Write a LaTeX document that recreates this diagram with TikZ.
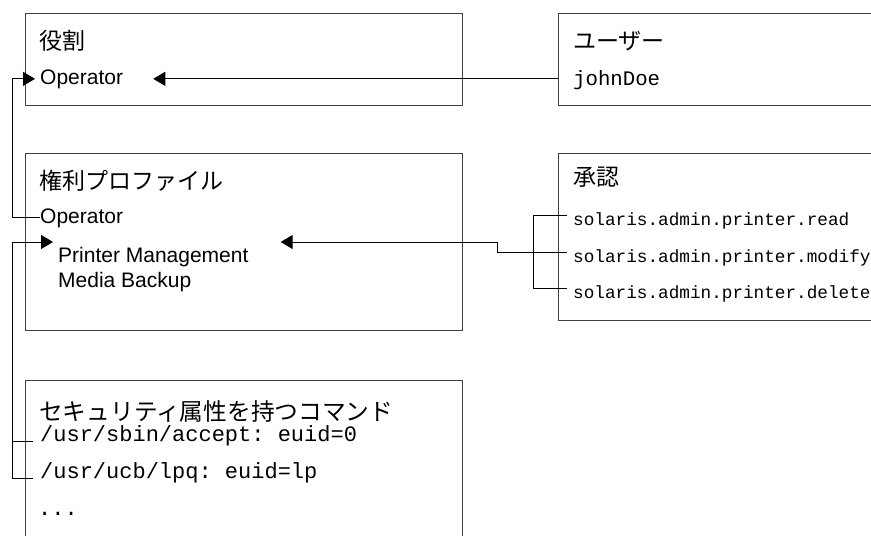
\documentclass[tikz,border=0pt]{standalone}
\usepackage{fontspec}
\setsansfont{Liberation Sans}
\setmonofont{Liberation Mono}
\newfontfamily\jpfont{Noto Sans CJK JP}
\usepackage{tikz}
\usetikzlibrary{arrows.meta}
\tikzstyle{arrow}    = [line width=0.9pt,->,>={Triangle[length=12pt,width=14pt]}]
\tikzstyle{wire}     = [line width=0.9pt]
\tikzstyle{box}      = [draw=black!75,line width=1.4pt,inner sep=0pt,anchor=north west]
\tikzstyle{heading}  = [inner sep=0pt,anchor=base west,font=\jpfont\fontsize{23}{27}\selectfont]
\tikzstyle{sanstext} = [inner sep=0pt,anchor=base west,font=\sffamily\fontsize{21}{25}\selectfont]
\tikzstyle{monotext} = [inner sep=0pt,anchor=base west,font=\ttfamily\fontsize{22}{26}\selectfont]

\begin{document}
\begin{tikzpicture}[x=1pt,y=-1pt]
           \useasboundingbox (0,0) rectangle (871,536);
           % boxes
           \node[box,minimum width=437pt,minimum height=92pt](rolebox)at(25,13){};
           \node[box,minimum width=340pt,minimum height=92pt](userbox)at(558,13){};
           \node[box,minimum width=437pt,minimum height=177pt](profbox)at(25,153){};
           \node[box,minimum width=340pt,minimum height=167pt](authbox)at(558,153){};
           \node[box,minimum width=437pt,minimum height=200pt](cmdbox)at(25,380){};
           % texts
           \node[heading](roletitle)at(39,49){役割};
           \node[sanstext](roleop)at(40,84){Operator};
           \node[heading](usertitle)at(573,49){ユーザー};
           \node[monotext,font=\ttfamily\fontsize{20.7}{24}\selectfont](johndoe)at(573,85){johnDoe};
           \node[heading](proftitle)at(39,189){権利プロファイル};
           \node[sanstext](profop)at(40,223){Operator};
           \node[sanstext](pm)at(58,262){Printer Management};
           \node[sanstext](mb)at(58,287){Media Backup};
           \node[heading](authtitle)at(573,185){承認};
           \node[monotext,font=\ttfamily\fontsize{17.7}{21}\selectfont](authread)at(573,225){solaris.admin.printer.read};
           \node[monotext,font=\ttfamily\fontsize{17.7}{21}\selectfont](authmod)at(573,262){solaris.admin.printer.modify};
           \node[monotext,font=\ttfamily\fontsize{17.7}{21}\selectfont](authdel)at(573,298){solaris.admin.printer.delete};
           \node[heading,font=\jpfont\fontsize{23.7}{28}\selectfont](cmdtitle)at(39,420){セキュリティ属性を持つコマンド};
           \node[monotext](cmdaccept)at(40,441){/usr/sbin/accept: euid=0};
           \node[monotext](cmdlpq)at(40,478){/usr/ucb/lpq: euid=lp};
           \node[monotext](cmddots)at(38,515){...};
           % connectors
           \draw[arrow](userbox.west |- roleop.east)--([xshift=30pt]roleop.east);
           \draw[arrow](profop.west)--++(-28,0)|-([xshift=-5pt]roleop.west);
           \draw[wire]([xshift=-7pt]cmdaccept.base west)--++(-21,0);
           \draw[arrow]([xshift=-7pt]cmdlpq.base west)--++(-21,0)|-([xshift=-5pt,yshift=20pt]pm.base west);
           \draw[wire]([xshift=-6pt,yshift=10pt]authread.base west)--++(-34,0)|-([xshift=-6pt,yshift=10pt]authdel.base west);
           \draw[arrow]([xshift=-6pt,yshift=10pt]authmod.base west)--++(-70,0)|-([xshift=32pt,yshift=20pt]pm.base east);
\end{tikzpicture}
\end{document}
